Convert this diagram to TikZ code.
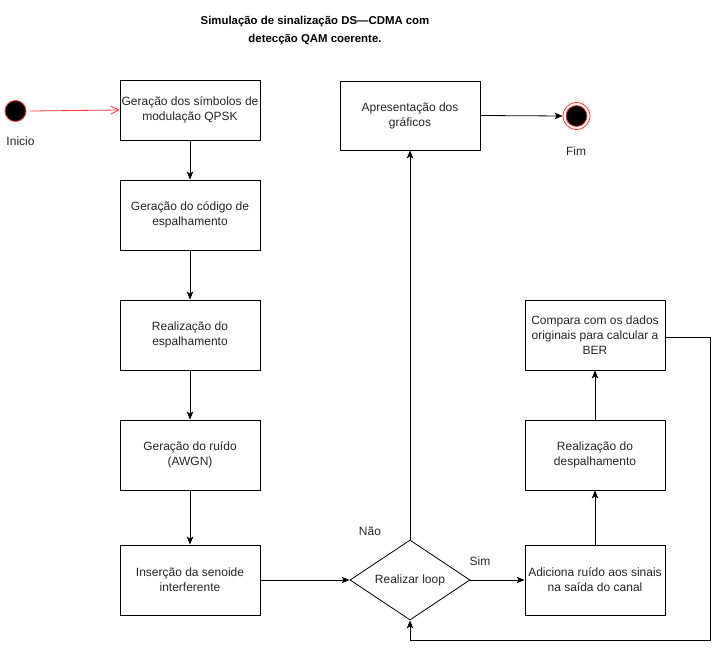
\documentclass[tikz,border=0pt]{standalone}
\usepackage{fontspec}
\setmainfont{Liberation Sans}
\usetikzlibrary{shapes.geometric,arrows.meta}
\begin{document}
\begin{tikzpicture}[x=1pt,y=-1pt,
  every node/.style={font=\fontsize{12}{15}\selectfont, text=black!85},
  box/.style={draw=black, line width=0.8pt, fill=white, minimum width=140pt, minimum height=70pt, align=center, inner sep=1pt},
  flow/.style={draw=black, line width=0.8pt, -{Stealth[length=8pt,width=6.5pt,inset=2pt]}},
  lbl/.style={inner sep=0pt}
]
\useasboundingbox (0,0) rectangle (720,650);
% title
\node[lbl, align=center, font=\bfseries\fontsize{11.4}{18}\selectfont, text=black] (title) at (315,31) {Simulação de sinalização DS—CDMA com\\detecção QAM coerente.};
% start
\node[circle, draw=red!80, fill=black, line width=0.8pt, minimum size=21pt, inner sep=0pt] (start) at (15.5,111) {};
\node[lbl] (inicio) at (20.5,141) {Inicio};
% boxes left column
\node[box, minimum height=60pt] (b1) at (190,110) {Geração dos símbolos de\\modulação QPSK};
\node[box] (b2) at (190,215) {Geração do código de\\espalhamento};
\node[box] (b3) at (190,335) {Realização do\\espalhamento};
\node[box] (b4) at (190,455) {Geração do ruído\\(AWGN)};
\node[box] (b5) at (190,580) {Inserção da senoide\\interferente};
% decision
\node[diamond, draw=black, line width=0.8pt, aspect=1.5, minimum width=120pt, minimum height=80pt, inner sep=0pt] (loop) at (410,580) {Realizar loop};
\node[lbl] (nao) at (370,531) {Não};
\node[lbl] (sim) at (480,561) {Sim};
% middle top
\node[box, minimum height=69pt] (apr) at (410,115.5) {Apresentação dos\\gráficos};
% end
\node[circle, draw=red!80, line width=0.8pt, minimum size=27pt, inner sep=0pt] (fimo) at (576.5,116) {};
\node[circle, draw=red!80, fill=black, line width=0.8pt, minimum size=21pt, inner sep=0pt] (fim) at (576.5,116) {};
\node[lbl] (fimt) at (576,151) {Fim};
% right column
\node[box] (r1) at (595,580) {Adiciona ruído aos sinais\\na saída do canal};
\node[box] (r2) at (595,455) {Realização do\\despalhamento};
\node[box] (r3) at (595,335) {Compara com os dados\\originais para calcular a\\BER};
\coordinate (c1) at (710,337);
\coordinate (c2) at (710,640);
\coordinate (c3) at (410,640);
% connectors
\draw[draw=red!80, line width=0.8pt, -{Straight Barb[length=8pt,width=8pt]}] (start.east) ++(4,0) -- (b1.west);
\draw[flow] (b1) -- (b2);
\draw[flow] (b2) -- (b3);
\draw[flow] (b3) -- (b4);
\draw[flow] (b4) -- (b5);
\draw[flow] (b5) -- (loop);
\draw[flow] (loop.north) -- (apr.south);
\draw[flow] (apr.east) -- (fimo.west);
\draw[flow] (loop.east) -- (r1.west);
\draw[flow] (r1) -- (r2);
\draw[flow] (r2) -- (r3);
\draw[flow] (r3.east |- c1) -- (c1) -- (c2) -- (c3) -- (loop.south);
\end{tikzpicture}
\end{document}
